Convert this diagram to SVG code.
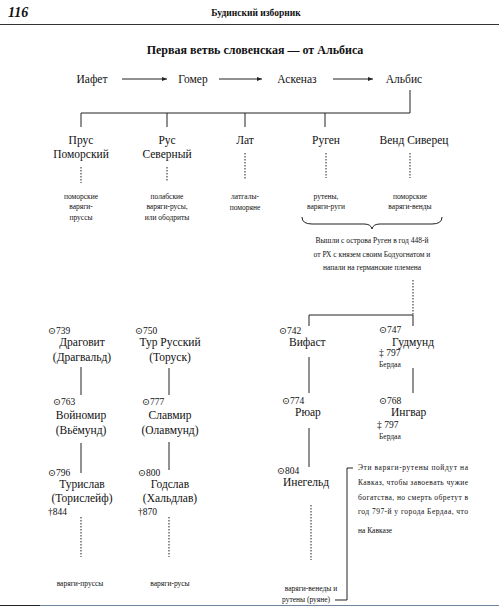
<svg xmlns="http://www.w3.org/2000/svg" width="499" height="607" viewBox="0 0 499 607">
<defs>
<marker id="arr" viewBox="0 0 10 10" refX="10" refY="5" markerWidth="6" markerHeight="5" orient="auto" markerUnits="userSpaceOnUse"><path d="M0,1 L10,5 L0,9 z" fill="#222"/></marker>
</defs>
<style>
.n{font-family:"Liberation Serif","DejaVu Serif",serif;font-size:11.5px;fill:#111;text-anchor:middle}
.nl{font-family:"Liberation Serif","DejaVu Serif",serif;font-size:11.5px;fill:#111}
.s{font-family:"Liberation Serif","DejaVu Serif",serif;font-size:7.5px;fill:#111;text-anchor:middle}
.sl{font-family:"Liberation Serif","DejaVu Serif",serif;font-size:7.5px;fill:#111}
.y{font-family:"Liberation Serif","DejaVu Serif",serif;font-size:9.5px;fill:#111}
.ln{stroke:#222;stroke-width:1;fill:none}
.dt{stroke:#222;stroke-width:1;stroke-dasharray:1.5 1.5;fill:none}
</style>
<rect width="499" height="607" fill="#fff"/>
<g id="header">
<text x="8" y="17" style="font-family:'Liberation Serif',serif;font-size:14px;font-weight:bold;font-style:italic" fill="#111">116</text>
<text x="256" y="16" text-anchor="middle" style="font-family:'Liberation Serif',serif;font-size:9.5px;font-weight:bold" fill="#111">Будинский изборник</text>
<line x1="0" y1="24.5" x2="499" y2="24.5" stroke="#333" stroke-width="1.2"/>
<text x="255" y="54" text-anchor="middle" style="font-family:'Liberation Serif',serif;font-size:12px;font-weight:bold" fill="#111">Первая ветвь словенская — от Альбиса</text>
</g>
<g id="connectors">
<line class="ln" x1="122" y1="79" x2="167" y2="79" marker-end="url(#arr)"/>
<line class="ln" x1="219" y1="79" x2="262" y2="79" marker-end="url(#arr)"/>
<line class="ln" x1="333" y1="79" x2="373" y2="79" marker-end="url(#arr)"/>
<path class="ln" d="M410,90 V113 M81,113 H410 M81,113 V127 M167,113 V127 M245,113 V127 M325,113 V127"/>
<path class="dt" d="M81,167 V183 M167,167 V181 M245,153 V179 M326,153 V178 M410,153 V178"/>
<path class="ln" d="M302,217 Q302,224 312,224 L364,224 Q371,224 372,229 Q373,224 380,224 L432,224 Q442,224 442,217"/>
<path class="dt" d="M413,280 V315"/>
<path class="ln" d="M309,326 V315 H413 V326"/>
<path class="ln" d="M309,357 V393 M413,368 V393 M309,428 V467"/>
<path class="dt" d="M311,505 V560"/>
<path class="ln" d="M81,367 V395 M169,368 V395 M81,443 V473 M169,442 V470"/>
<path class="dt" d="M81,517 V557 M169,517 V557"/>
<path class="ln" d="M353,468 H347 V600 H335"/>
</g>
<g id="top-row">
<text class="n" x="92" y="83">Иафет</text>
<text class="n" x="193" y="83">Гомер</text>
<text class="n" x="297" y="83">Аскеназ</text>
<text class="n" x="404" y="83">Альбис</text>
</g>
<g id="prus">
<text class="n" x="81" y="144">Прус</text>
<text class="n" x="81" y="158">Поморский</text>
<text class="s" x="81" y="199">поморские</text>
<text class="s" x="81" y="209">варяги-</text>
<text class="s" x="81" y="220">пруссы</text>
</g>
<g id="rus">
<text class="n" x="167" y="144">Рус</text>
<text class="n" x="167" y="158">Северный</text>
<text class="s" x="167" y="199">полабские</text>
<text class="s" x="167" y="209">варяги-русы,</text>
<text class="s" x="167" y="220">или ободриты</text>
</g>
<g id="lat">
<text class="n" x="245" y="144">Лат</text>
<text class="s" x="245" y="199">латгалы-</text>
<text class="s" x="245" y="210">поморяне</text>
</g>
<g id="rugen">
<text class="n" x="326" y="144">Руген</text>
<text class="s" x="326" y="199">рутены,</text>
<text class="s" x="326" y="209">варяги-руги</text>
</g>
<g id="vend">
<text class="n" x="414" y="144">Венд Сиверец</text>
<text class="s" x="410" y="199">поморские</text>
<text class="s" x="410" y="209">варяги-венды</text>
</g>
<g id="note1">
<text class="s" x="372" y="243">Вышли с острова Руген в год 448-й</text>
<text class="s" x="372" y="257">от РХ с князем своим Бодуогнатом и</text>
<text class="s" x="372" y="270">напали на германские племена</text>
</g>
<g id="dragovit">
<text class="y" x="48" y="334">⊙739</text>
<text class="n" x="82" y="346">Драговит</text>
<text class="n" x="82" y="361">(Драгвальд)</text>
</g>
<g id="tur">
<text class="y" x="135" y="334">⊙750</text>
<text class="n" x="170" y="346">Тур Русский</text>
<text class="n" x="170" y="361">(Торуск)</text>
</g>
<g id="voinomir">
<text class="y" x="53" y="405">⊙763</text>
<text class="n" x="81" y="419">Войномир</text>
<text class="n" x="81" y="434">(Вьёмунд)</text>
</g>
<g id="slavmir">
<text class="y" x="142" y="405">⊙777</text>
<text class="n" x="170" y="419">Славмир</text>
<text class="n" x="170" y="434">(Олавмунд)</text>
</g>
<g id="turislav">
<text class="y" x="48" y="476">⊙796</text>
<text class="n" x="82" y="488">Турислав</text>
<text class="n" x="82" y="502">(Торислейф)</text>
<text class="y" x="48" y="515">†844</text>
</g>
<g id="godslav">
<text class="y" x="138" y="476">⊙800</text>
<text class="n" x="170" y="488">Годслав</text>
<text class="n" x="170" y="502">(Хальдлав)</text>
<text class="y" x="138" y="515">†870</text>
</g>
<g id="vifast">
<text class="y" x="279" y="334">⊙742</text>
<text class="nl" x="289" y="346">Вифаст</text>
</g>
<g id="gudmund">
<text class="y" x="379" y="333">⊙747</text>
<text class="nl" x="392" y="346">Гудмунд</text>
<text class="y" x="379" y="356">‡ 797</text>
<text class="sl" x="379" y="367">Бердаа</text>
</g>
<g id="ruar">
<text class="y" x="282" y="404">⊙774</text>
<text class="nl" x="295" y="416">Рюар</text>
</g>
<g id="ingvar">
<text class="y" x="379" y="404">⊙768</text>
<text class="nl" x="391" y="416">Ингвар</text>
<text class="y" x="377" y="428">‡ 797</text>
<text class="sl" x="379" y="439">Бердаа</text>
</g>
<g id="inegeld">
<text class="y" x="277" y="474">⊙804</text>
<text class="nl" x="283" y="486">Инегельд</text>
</g>
<g id="note2">
<text class="sl" x="358" y="470" textLength="110" lengthAdjust="spacing">Эти варяги-рутены пойдут на</text>
<text class="sl" x="358" y="485" textLength="110" lengthAdjust="spacing">Кавказ, чтобы завоевать чужие</text>
<text class="sl" x="358" y="500" textLength="110" lengthAdjust="spacing">богатства, но смерть обретут в</text>
<text class="sl" x="358" y="514" textLength="110" lengthAdjust="spacing">год 797-й у города Бердаа, что</text>
<text class="sl" x="358" y="533">на Кавказе</text>
</g>
<g id="bottom">
<text class="s" x="80" y="586">варяги-пруссы</text>
<text class="s" x="170" y="586">варяги-русы</text>
<text class="s" x="311" y="591">варяги-венеды и</text>
<text class="s" x="306" y="602">рутены (руяне)</text>
<line x1="0" y1="605.5" x2="40" y2="605.5" stroke="#222" stroke-width="1"/>
<line x1="40" y1="605.5" x2="499" y2="605.5" stroke="#6f86a0" stroke-width="1.2"/>
</g>
</svg>
